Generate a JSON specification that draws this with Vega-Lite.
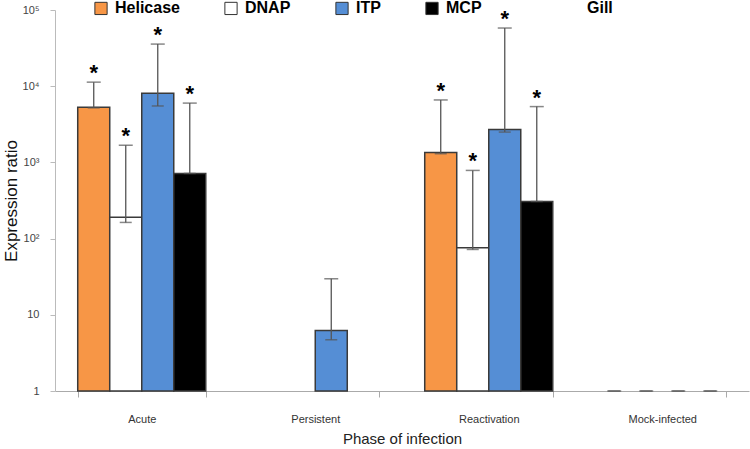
{
  "$schema": "https://vega.github.io/schema/vega-lite/v6.json",
  "width": 694,
  "height": 381,
  "autosize": "none",
  "padding": {"left": 55, "top": 10, "right": 1, "bottom": 58},
  "background": "white",
  "config": {
    "view": {"stroke": null},
    "font": "Liberation Sans"
  },
  "title": {
    "text": "Gill",
    "anchor": "start",
    "frame": "group",
    "dx": 532,
    "dy": 20,
    "fontSize": 16,
    "fontWeight": "bold",
    "color": "#000000",
    "font": "Liberation Sans"
  },
  "data": {
    "values": [
      {"phase": "Acute", "gene": "Helicase", "value": 5300, "lower": 5200, "upper": 11300, "sig": true},
      {"phase": "Acute", "gene": "DNAP", "value": 190, "lower": 163, "upper": 1680, "sig": true},
      {"phase": "Acute", "gene": "ITP", "value": 8100, "lower": 5500, "upper": 35700, "sig": true},
      {"phase": "Acute", "gene": "MCP", "value": 716, "lower": 716, "upper": 6000, "sig": true},
      {"phase": "Persistent", "gene": "ITP", "value": 6.2, "lower": 4.7, "upper": 29.7, "sig": false},
      {"phase": "Reactivation", "gene": "Helicase", "value": 1350, "lower": 1300, "upper": 6600, "sig": true},
      {"phase": "Reactivation", "gene": "DNAP", "value": 76, "lower": 72, "upper": 785, "sig": true},
      {"phase": "Reactivation", "gene": "ITP", "value": 2700, "lower": 2500, "upper": 58000, "sig": true},
      {"phase": "Reactivation", "gene": "MCP", "value": 307, "lower": 307, "upper": 5400, "sig": true},
      {"phase": "Mock-infected", "gene": "Helicase", "value": null, "lower": 1, "upper": 1, "sig": false},
      {"phase": "Mock-infected", "gene": "DNAP", "value": null, "lower": 1, "upper": 1, "sig": false},
      {"phase": "Mock-infected", "gene": "ITP", "value": null, "lower": 1, "upper": 1, "sig": false},
      {"phase": "Mock-infected", "gene": "MCP", "value": null, "lower": 1, "upper": 1, "sig": false}
    ]
  },
  "encoding": {
    "x": {
      "field": "phase",
      "type": "nominal",
      "sort": ["Acute", "Persistent", "Reactivation", "Mock-infected"],
      "scale": {"paddingInner": 0.262, "paddingOuter": 0.131},
      "axis": {
        "title": "Phase of infection",
        "titleFontSize": 15,
        "titleFontWeight": "normal",
        "titleColor": "#222222",
        "titlePadding": 7,
        "labelAngle": 0,
        "labelFontSize": 11,
        "labelColor": "#333333",
        "labelPadding": 16,
        "tickBand": "extent",
        "tickSize": 6,
        "tickColor": "#aaaaaa",
        "domainColor": "#aaaaaa",
        "grid": false
      }
    },
    "xOffset": {
      "field": "gene",
      "type": "nominal",
      "sort": ["Helicase", "DNAP", "ITP", "MCP"],
      "scale": {"domain": ["Helicase", "DNAP", "ITP", "MCP"], "paddingInner": 0, "paddingOuter": 0}
    }
  },
  "layer": [
    {
      "mark": {"type": "bar", "stroke": "#3a3a3a", "strokeWidth": 1.5},
      "encoding": {
        "y": {
          "field": "value",
          "type": "quantitative",
          "stack": null,
          "scale": {"type": "log", "domain": [1, 100000], "nice": false},
          "axis": {
            "title": "Expression ratio",
            "titleFontSize": 17,
            "titleFontWeight": "normal",
            "titleColor": "#111111",
            "titlePadding": 2,
            "values": [1, 10, 100, 1000, 10000, 100000],
            "labelExpr": "datum.value == 1 ? '1' : datum.value == 10 ? '10' : datum.value == 100 ? '10²' : datum.value == 1000 ? '10³' : datum.value == 10000 ? '10⁴' : '10⁵'",
            "labelFontSize": 11,
            "labelColor": "#444444",
            "labelPadding": 11,
            "tickSize": 5,
            "tickColor": "#bbbbbb",
            "domainColor": "#bbbbbb",
            "grid": false
          }
        },
        "fill": {
          "field": "gene",
          "type": "nominal",
          "scale": {
            "domain": ["Helicase", "DNAP", "ITP", "MCP"],
            "range": ["#F79646", "#FFFFFF", "#558ED5", "#000000"]
          },
          "legend": {
            "title": null,
            "orient": "none",
            "legendX": 38,
            "legendY": -10,
            "direction": "horizontal",
            "columns": 4,
            "columnPadding": 42,
            "symbolType": "square",
            "symbolSize": 150,
            "symbolStrokeColor": "#333333",
            "symbolStrokeWidth": 1,
            "labelFontSize": 16,
            "labelFontWeight": "bold",
            "labelColor": "#000000",
            "labelOffset": 6
          }
        }
      }
    },
    {
      "mark": {"type": "rule", "color": "#555555", "strokeWidth": 1.3},
      "encoding": {
        "y": {"field": "lower", "type": "quantitative"},
        "y2": {"field": "upper"}
      }
    },
    {
      "mark": {"type": "tick", "color": "#555555", "thickness": 1.5, "size": 14},
      "encoding": {
        "y": {"field": "upper", "type": "quantitative"}
      }
    },
    {
      "mark": {"type": "tick", "color": "#555555", "thickness": 1.5, "size": 12},
      "encoding": {
        "y": {"field": "lower", "type": "quantitative"}
      }
    },
    {
      "transform": [{"filter": "datum.sig"}],
      "mark": {"type": "text", "text": "*", "fontSize": 22, "fontWeight": "bold", "baseline": "middle", "dy": -9, "color": "#000000"},
      "encoding": {
        "y": {"field": "upper", "type": "quantitative"}
      }
    }
  ]
}
